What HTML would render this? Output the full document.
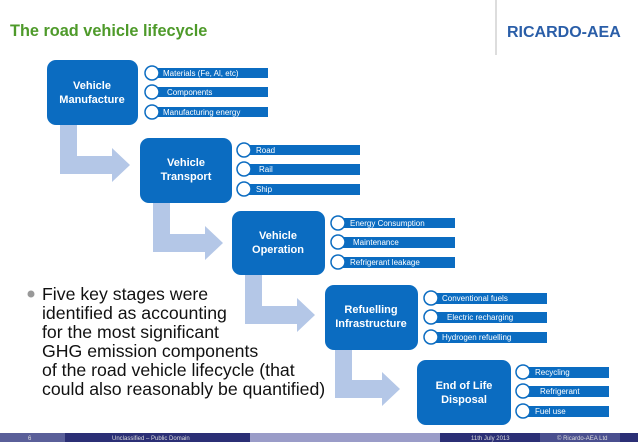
<!DOCTYPE html>
<html><head><meta charset="utf-8"><style>
body{margin:0;width:638px;height:442px;overflow:hidden;background:#fff;font-family:"Liberation Sans",sans-serif}
</style></head><body>
<svg width="638" height="442" viewBox="0 0 638 442" xmlns="http://www.w3.org/2000/svg" font-family="Liberation Sans, sans-serif">
<text x="10" y="36" font-size="16.3" font-weight="bold" fill="#4e9a2a">The road vehicle lifecycle</text>
<line x1="496" y1="0" x2="496" y2="55" stroke="#bbb" stroke-width="1"/>
<text x="507" y="37" font-size="16" font-weight="bold" fill="#2a5ea8">RICARDO-AEA</text>
<g fill="#b4c7e7">
<path d="M60 125 H77 V156 H112 V148 L130 165 L112 182 V174 H60 Z"/>
<path d="M153 203 H170 V234 H205 V226 L223 243 L205 260 V252 H153 Z"/>
<path d="M245 275 H262 V306 H297 V298 L315 315 L297 332 V324 H245 Z"/>
<path d="M335 350 H352 V380 H382 V372 L400 389 L382 406 V398 H335 Z"/>
</g>
<g fill="#0b6cc1">
<rect x="47" y="60" width="91" height="65" rx="9"/>
<rect x="140" y="138" width="92" height="65" rx="9"/>
<rect x="232" y="211" width="93" height="64" rx="9"/>
<rect x="325" y="285" width="93" height="65" rx="9"/>
<rect x="417" y="360" width="94" height="65" rx="9"/>
</g>
<g fill="#fff" font-weight="bold" font-size="11" text-anchor="middle">
<text x="92" y="89">Vehicle</text><text x="92" y="103">Manufacture</text>
<text x="186" y="166">Vehicle</text><text x="186" y="180">Transport</text>
<text x="278" y="239">Vehicle</text><text x="278" y="253">Operation</text>
<text x="371" y="313">Refuelling</text><text x="371" y="327">Infrastructure</text>
<text x="464" y="389">End of Life</text><text x="464" y="403">Disposal</text>
</g>
<g fill="#0b6cc1">
<rect x="148" y="68" width="120" height="10"/><rect x="148" y="87" width="120" height="10"/><rect x="148" y="107" width="120" height="10"/>
<rect x="240" y="145" width="120" height="10"/><rect x="240" y="164" width="120" height="11"/><rect x="240" y="184" width="120" height="11"/>
<rect x="334" y="218" width="121" height="10"/><rect x="334" y="237" width="121" height="11"/><rect x="334" y="257" width="121" height="11"/>
<rect x="427" y="293" width="120" height="11"/><rect x="427" y="312" width="120" height="11"/><rect x="427" y="332" width="120" height="11"/>
<rect x="519" y="367" width="90" height="11"/><rect x="519" y="386" width="90" height="11"/><rect x="519" y="406" width="90" height="11"/>
</g>
<g fill="#fff" stroke="#0b6cc1" stroke-width="1.5">
<circle cx="152" cy="73" r="7"/><circle cx="152" cy="92" r="7"/><circle cx="152" cy="112" r="7"/>
<circle cx="244" cy="150" r="7"/><circle cx="244" cy="169" r="7"/><circle cx="244" cy="189" r="7"/>
<circle cx="338" cy="223" r="7"/><circle cx="338" cy="242" r="7"/><circle cx="338" cy="262" r="7"/>
<circle cx="431" cy="298" r="7"/><circle cx="431" cy="317" r="7"/><circle cx="431" cy="337" r="7"/>
<circle cx="523" cy="372" r="7"/><circle cx="523" cy="391" r="7"/><circle cx="523" cy="411" r="7"/>
</g>
<g fill="#fff" font-size="8">
<text x="163" y="76">Materials (Fe, Al, etc)</text><text x="167" y="95">Components</text><text x="163" y="115">Manufacturing energy</text>
<text x="256" y="153">Road</text><text x="259" y="172">Rail</text><text x="256" y="192">Ship</text>
<text x="350" y="226">Energy Consumption</text><text x="353" y="245">Maintenance</text><text x="350" y="265">Refrigerant leakage</text>
<text x="442" y="301">Conventional fuels</text><text x="447" y="320">Electric recharging</text><text x="442" y="340">Hydrogen refuelling</text>
<text x="535" y="375">Recycling</text><text x="540" y="394">Refrigerant</text><text x="535" y="414">Fuel use</text>
</g>
<circle cx="31" cy="294" r="3.5" fill="#999"/>
<g font-size="17.7" fill="#111">
<text x="42" y="300">Five key stages were</text>
<text x="42" y="319">identified as accounting</text>
<text x="42" y="338">for the most significant</text>
<text x="42" y="357">GHG emission components</text>
<text x="42" y="376">of the road vehicle lifecycle (that</text>
<text x="42" y="395">could also reasonably be quantified)</text>
</g>
<rect x="0" y="433" width="65" height="9" fill="#5a5f99"/>
<rect x="65" y="433" width="185" height="9" fill="#2b2f75"/>
<rect x="250" y="433" width="190" height="9" fill="#9a9cc8"/>
<rect x="440" y="433" width="100" height="9" fill="#2b2f75"/>
<rect x="540" y="433" width="80" height="9" fill="#4a4f8f"/>
<rect x="620" y="433" width="18" height="9" fill="#2b2f75"/>
<g fill="#ddd" font-size="6">
<text x="28" y="440">6</text>
<text x="112" y="440">Unclassified – Public Domain</text>
<text x="471" y="440">11th July 2013</text>
<text x="557" y="440">© Ricardo-AEA Ltd</text>
</g>
</svg>
</body></html>
